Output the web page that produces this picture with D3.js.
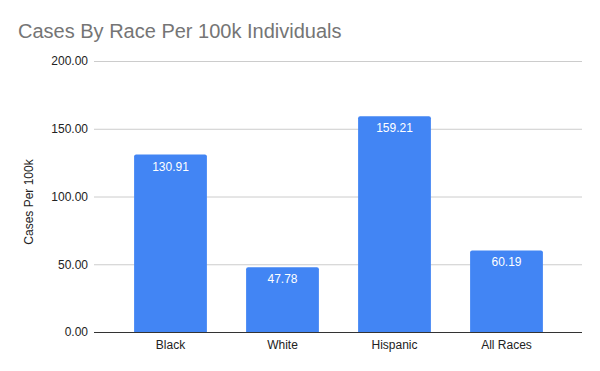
<!DOCTYPE html>
<html><head><meta charset="utf-8">
<script src="https://cdn.jsdelivr.net/npm/d3@7"></script>
<style>body{margin:0;background:#fff;} svg{display:block;font-family:"Liberation Sans", Arial, sans-serif;}</style>
</head><body>
<svg id="c" width="600" height="371"></svg>
<script>
const categories = ["Black", "White", "Hispanic", "All Races"];
const values = [130.91, 47.78, 159.21, 60.19];
const yTicks = [0, 50, 100, 150, 200];
const title = "Cases By Race Per 100k Individuals";
const yTitle = "Cases Per 100k";

const FONT = '"Liberation Sans", Arial, sans-serif';
const svg = d3.select("#c");
svg.append("rect").attr("width",600).attr("height",371).attr("fill","#fff");
const x = d3.scaleBand().domain(categories).range([114.5, 562.5]).paddingInner(0.35).paddingOuter(0.175);
const y = d3.scaleLinear().domain([0, 200]).range([332, 61]);
const left = 94, right = 582;

svg.append("text").attr("x",18).attr("y",38).attr("fill","#757575").attr("font-size",20).text(title);

// gridlines
svg.append("g").selectAll("line").data(yTicks.filter(d=>d>0)).join("line")
  .attr("x1",left).attr("x2",right).attr("y1",d=>y(d)+0.5).attr("y2",d=>y(d)+0.5)
  .attr("stroke","#cccccc").attr("stroke-width",1);

const yAxis = d3.axisLeft(y).tickValues(yTicks).tickFormat(d3.format(".2f")).tickSize(0).tickPadding(6);
const ga = svg.append("g").attr("transform",`translate(${left},0)`).call(yAxis);
ga.select(".domain").remove();
ga.selectAll("text").attr("font-size",12).attr("fill","#222").attr("font-family",FONT);

const r = 2;
svg.append("g").selectAll("path").data(values).join("path")
  .attr("fill","#4285f4")
  .attr("d",(d,i)=>{
    const x0=x(categories[i]), w=x.bandwidth(), y0=y(d), yb=y(0);
    return `M${x0},${yb}V${y0+r}Q${x0},${y0} ${x0+r},${y0}H${x0+w-r}Q${x0+w},${y0} ${x0+w},${y0+r}V${yb}Z`;
  });

svg.append("g").selectAll("text").data(values).join("text")
  .attr("x",(d,i)=>x(categories[i])+x.bandwidth()/2).attr("y",d=>y(d)+16)
  .attr("text-anchor","middle").attr("fill","#fff").attr("font-size",12)
  .text(d=>d3.format(".2f")(d));

// baseline
svg.append("line").attr("x1",left).attr("x2",right).attr("y1",y(0)+0.5).attr("y2",y(0)+0.5).attr("stroke","#333").attr("stroke-width",1);

const xAxis = d3.axisBottom(x).tickSize(0).tickPadding(8);
const gx = svg.append("g").attr("transform",`translate(0,${y(0)})`).call(xAxis);
gx.select(".domain").remove();
gx.selectAll("text").attr("font-size",12).attr("fill","#222").attr("font-family",FONT);

svg.append("text").attr("transform","translate(33,202) rotate(-90)").attr("text-anchor","middle")
  .attr("font-size",12).attr("fill","#222").text(yTitle);
</script>
</body></html>
